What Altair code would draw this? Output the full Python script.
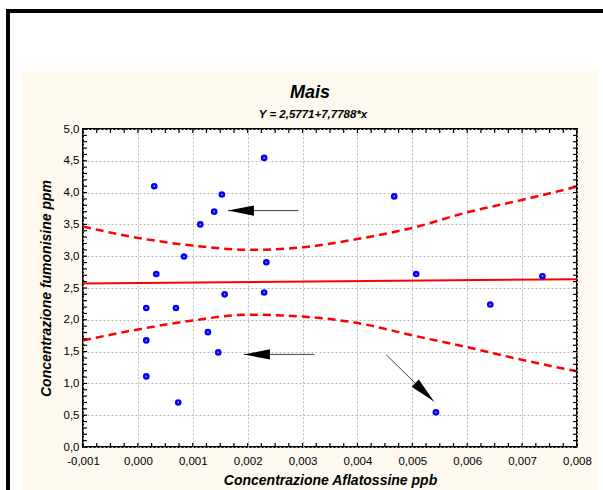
import math
import altair as alt
import pandas as pd

# ---------------- data ----------------
x_pts = [0.000298, 0.000335, 0.00084, 0.001136, 0.00139, 0.00153, 0.0023, 0.00234,
         0.00158, 0.0023, 0.000153, 0.000693, 0.000153, 0.001276, 0.001464, 0.000153,
         0.000735, 0.00467, 0.00507, 0.00737, 0.00642, 0.00543]
y_pts = [4.10, 2.72, 2.995, 3.50, 3.70, 3.97, 4.545, 2.905,
         2.40, 2.43, 2.186, 2.186, 1.676, 1.806, 1.487, 1.11,
         0.70, 3.94, 2.72, 2.685, 2.24, 0.545]

fit_x = [-0.001, 0.008]
fit_y = [2.569, 2.639]

ci_x = [-0.001, 0.000, 0.001, 0.002, 0.003, 0.004, 0.005, 0.006, 0.007, 0.008]
ci_upper = [3.466, 3.288, 3.167, 3.100, 3.140, 3.270, 3.445, 3.690, 3.885, 4.094]
ci_lower = [1.676, 1.848, 1.990, 2.080, 2.050, 1.950, 1.755, 1.570, 1.370, 1.190]

arrow_tail_x = [0.002926, 0.003217, 0.004523]
arrow_tail_y = [3.717, 1.456, 1.451]
arrow_tip_x = [0.00164, 0.001932, 0.005391]
arrow_tip_y = [3.717, 1.456, 0.718]

x_major = [-0.001, 0.000, 0.001, 0.002, 0.003, 0.004, 0.005, 0.006, 0.007, 0.008]
y_major = [0.0, 0.5, 1.0, 1.5, 2.0, 2.5, 3.0, 3.5, 4.0, 4.5, 5.0]
x_minor = [round(-0.001 + i * 0.00025, 6) for i in range(37)]
y_minor = [round(i * 0.1, 1) for i in range(51)]

title_text = "Mais"
subtitle_text = "Y = 2,5771+7,7788*x"
x_title = "Concentrazione Aflatossine ppb"
y_title = "Concentrazione fumonisine ppm"

# ---------------- layout ----------------
W, H = 494, 318
PAD_L, PAD_T = 83, 129
X_DOM = [-0.001, 0.008]
Y_DOM = [0, 5]
FONT = "Liberation Sans"
CREAM = "#fdf9ee"

xs = alt.Scale(domain=X_DOM, nice=False, zero=False)
ys = alt.Scale(domain=Y_DOM, nice=False, zero=False)

x_axis = alt.Axis(
    values=x_major,
    labelExpr="replace(replace(format(datum.value, '.3f'), '.', ','), '\u2212', '-')",
    title=x_title, labelPadding=8, titlePadding=7)
y_axis = alt.Axis(
    values=y_major,
    labelExpr="replace(format(datum.value, '.1f'), '.', ',')",
    title=y_title, labelPadding=4, titlePadding=10)


def X(field):
    return alt.X(field, type="quantitative", scale=xs, axis=x_axis)


def Y(field):
    return alt.Y(field, type="quantitative", scale=ys, axis=y_axis)


pts = pd.DataFrame({"x": x_pts, "y": y_pts})
fit = pd.DataFrame({"x": fit_x, "y": fit_y})
ci = pd.DataFrame({"x": ci_x * 2, "y": ci_upper + ci_lower,
                   "band": ["upper"] * len(ci_x) + ["lower"] * len(ci_x)})

angles = []
for tx, ty, hx, hy in zip(arrow_tail_x, arrow_tail_y, arrow_tip_x, arrow_tip_y):
    dx = (hx - tx) * W / (X_DOM[1] - X_DOM[0])
    dy = -(hy - ty) * H / (Y_DOM[1] - Y_DOM[0])
    d = math.degrees(math.atan2(dy, dx))
    angles.append((d - 180) % 360)
arrows = pd.DataFrame({"tx": arrow_tail_x, "ty": arrow_tail_y,
                       "hx": arrow_tip_x, "hy": arrow_tip_y, "ang": angles})

one = pd.DataFrame({"a": [0]})

ci_lines = alt.Chart(ci).mark_line(color="#ff0000", strokeWidth=2.5, strokeDash=[8, 5],
                                   interpolate="monotone").encode(
    x=X("x"), y=Y("y"), detail="band:N")

fit_line = alt.Chart(fit).mark_line(color="#ff0000", strokeWidth=2).encode(
    x=X("x"), y=Y("y"))

xmin_df = pd.DataFrame({"v": x_minor})
ymin_df = pd.DataFrame({"v": y_minor})
TL = 4
ticks = [
    alt.Chart(xmin_df).mark_rule(color="black", strokeWidth=1.2).encode(
        x=X("v"), y=alt.value(0), y2=alt.value(TL)),
    alt.Chart(xmin_df).mark_rule(color="black", strokeWidth=1.2).encode(
        x=X("v"), y=alt.value(H), y2=alt.value(H - TL)),
    alt.Chart(ymin_df).mark_rule(color="black", strokeWidth=1.2).encode(
        y=Y("v"), x=alt.value(0), x2=alt.value(TL)),
    alt.Chart(ymin_df).mark_rule(color="black", strokeWidth=1.2).encode(
        y=Y("v"), x=alt.value(W), x2=alt.value(W - TL)),
]

arrow_lines = alt.Chart(arrows).mark_rule(color="#444444", strokeWidth=1).encode(
    x=X("tx"), y=Y("ty"), x2="hx:Q", y2="hy:Q")
arrow_heads = alt.Chart(arrows).mark_point(
    shape="M 0 0 L 2 -0.4 L 2 0.4 Z", size=676, filled=True, color="black",
    opacity=1, strokeWidth=0).encode(
    x=X("hx"), y=Y("hy"), angle=alt.Angle("ang:Q", scale=None))

points = alt.Chart(pts).mark_circle(size=44, color="#0000ff", opacity=1).encode(
    x=X("x"), y=Y("y"))
centers = alt.Chart(pts).mark_circle(size=3, color="#a0a0ff", opacity=1).encode(
    x=X("x"), y=Y("y"))

title_mark = alt.Chart(one).mark_text(
    text=title_text, font=FONT, fontSize=18, fontWeight="bold", fontStyle="italic",
    color="black", align="center", baseline="alphabetic").encode(
    x=alt.value(310 - PAD_L), y=alt.value(98 - PAD_T))
subtitle_mark = alt.Chart(one).mark_text(
    text=subtitle_text, font=FONT, fontSize=11.5, fontWeight="bold", fontStyle="italic",
    color="black", align="center", baseline="alphabetic").encode(
    x=alt.value(313 - PAD_L), y=alt.value(117.5 - PAD_T))


def deco(x, x2, y, y2, color):
    return alt.Chart(one).mark_rect(color=color, strokeWidth=0).encode(
        x=alt.value(x), x2=alt.value(x2), y=alt.value(y), y2=alt.value(y2))


decos = [
    deco(-PAD_L, 603 - PAD_L, -PAD_T, 69 - PAD_T, "white"),
    deco(-PAD_L, 22 - PAD_L, -PAD_T, 490 - PAD_T, "white"),
    deco(598 - PAD_L, 603 - PAD_L, 69 - PAD_T, 490 - PAD_T, "white"),
    deco(6 - PAD_L, 603 - PAD_L, 9 - PAD_T, 13 - PAD_T, "black"),
    deco(6 - PAD_L, 10 - PAD_L, 9 - PAD_T, 490 - PAD_T, "black"),
]

chart = alt.layer(
    ci_lines, fit_line, *ticks, arrow_lines, arrow_heads, points, centers,
    title_mark, subtitle_mark, *decos
).properties(
    width=W, height=H,
    autosize="none",
    padding={"left": PAD_L, "top": PAD_T, "right": 603 - PAD_L - W, "bottom": 490 - PAD_T - H},
    background=CREAM,
).configure_view(
    fill="white", stroke="black", strokeWidth=2
).configure_axis(
    grid=True, gridColor="#b8b8b8", gridDash=[2, 2], gridWidth=1,
    ticks=False, domain=False, labelFont=FONT, labelFontSize=11.5, labelColor="black",
    labelFlush=False, titleFont=FONT, titleFontSize=14, titleFontWeight="bold",
    titleFontStyle="italic", titleColor="black"
)

chart.save("out.html", embed_options={"renderer": "svg", "actions": False})
